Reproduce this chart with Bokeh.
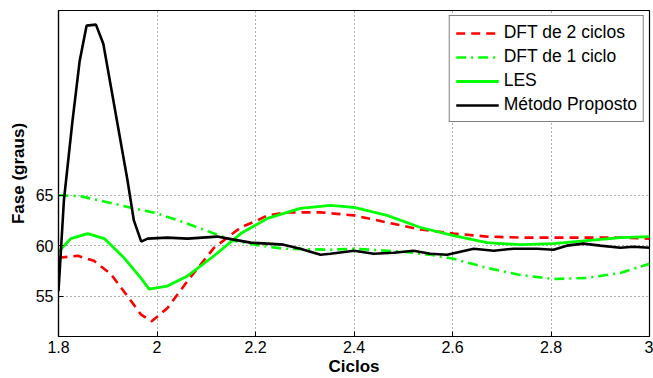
from bokeh.plotting import figure
from bokeh.models import FixedTicker, Legend, LegendItem, Range1d
from bokeh.embed import file_html
from bokeh.resources import INLINE

# ---- data ----
x_ticks = [1.8, 2.0, 2.2, 2.4, 2.6, 2.8, 3.0]
x_tick_labels = ["1.8", "2", "2.2", "2.4", "2.6", "2.8", "3"]
y_ticks = [55, 60, 65]

dft2_x = [1.800, 1.839, 1.872, 1.906, 1.940, 1.967, 1.989, 2.021, 2.062, 2.116, 2.170, 2.204, 2.224,
          2.264, 2.332, 2.400, 2.467, 2.535, 2.602, 2.670, 2.737, 2.805, 2.873, 2.941, 3.000]
dft2_y = [58.8, 59.0, 58.5, 57.2, 55.0, 53.2, 52.5, 53.8, 56.5, 59.8, 61.8, 62.5, 63.0,
          63.3, 63.3, 63.0, 62.3, 61.6, 61.2, 60.9, 60.8, 60.8, 60.8, 60.8, 60.7]

dft1_x = [1.800, 1.845, 1.899, 1.953, 2.000, 2.055, 2.116, 2.156, 2.210, 2.257, 2.352, 2.400,
          2.500, 2.555, 2.602, 2.670, 2.737, 2.805, 2.873, 2.941, 3.000]
dft1_y = [65.0, 64.9, 64.3, 63.7, 63.2, 62.3, 61.2, 60.5, 60.0, 59.7, 59.6, 59.7,
          59.4, 59.1, 58.7, 57.8, 57.1, 56.7, 56.8, 57.3, 58.2]

les_x = [1.800, 1.825, 1.859, 1.893, 1.933, 1.967, 1.984, 2.021, 2.062, 2.116, 2.170, 2.224,
         2.291, 2.352, 2.400, 2.467, 2.535, 2.602, 2.670, 2.737, 2.805, 2.873, 2.941, 3.000]
les_y = [59.4, 60.7, 61.2, 60.7, 58.8, 56.8, 55.7, 56.0, 57.0, 59.0, 61.2, 62.7,
         63.7, 64.0, 63.8, 63.0, 61.8, 61.0, 60.3, 60.1, 60.2, 60.5, 60.8, 60.9]

prop_x = [1.800, 1.811, 1.828, 1.843, 1.857, 1.876, 1.891, 1.940, 1.953, 1.968, 1.981, 2.021,
          2.062, 2.122, 2.156, 2.190, 2.224, 2.257, 2.291, 2.332, 2.352, 2.400, 2.440, 2.481,
          2.521, 2.555, 2.589, 2.616, 2.643, 2.684, 2.724, 2.772, 2.805, 2.832, 2.866, 2.900,
          2.941, 2.967, 3.000]
prop_y = [55.5, 64.5, 72.2, 78.3, 81.8, 81.9, 80.0, 66.5, 62.5, 60.4, 60.7, 60.8,
          60.7, 60.9, 60.6, 60.3, 60.2, 60.1, 59.7, 59.1, 59.2, 59.5, 59.2, 59.3,
          59.5, 59.2, 59.1, 59.4, 59.7, 59.5, 59.7, 59.7, 59.6, 60.0, 60.2, 60.0,
          59.8, 59.9, 59.8]

labels = ["DFT de 2 ciclos", "DFT de 1 ciclo", "LES", "Método Proposto"]

FONT = "Liberation Sans"

p = figure(width=653, height=378, output_backend="svg", toolbar_location=None,
           x_range=Range1d(1.8, 3.0), y_range=Range1d(51.0, 83.3),
           min_border_left=58, min_border_right=4, min_border_top=10, min_border_bottom=0)

p.outline_line_color = "black"
p.outline_line_width = 1.2
p.background_fill_color = "white"
p.border_fill_color = "white"

# axes
p.xaxis.ticker = FixedTicker(ticks=x_ticks)
p.xaxis.major_label_overrides = {t: l for t, l in zip(x_ticks, x_tick_labels)}
p.yaxis.ticker = FixedTicker(ticks=y_ticks)
for ax in (p.xaxis[0], p.yaxis[0]):
    ax.axis_line_color = "black"
    ax.axis_line_width = 1.2
    ax.major_tick_in = 5
    ax.major_tick_out = 0
    ax.minor_tick_line_color = None
    ax.major_tick_line_color = "black"
    ax.major_label_text_font = FONT
    ax.major_label_text_font_size = "16px"
    ax.major_label_text_color = "black"
    ax.axis_label_text_font = FONT
    ax.axis_label_text_font_size = "17px"
    ax.axis_label_text_font_style = "bold"
    ax.axis_label_text_color = "black"

p.xaxis.axis_label = "Ciclos"
p.yaxis.axis_label = "Fase (graus)"
p.xaxis.major_label_standoff = 4
p.xaxis.axis_label_standoff = 1
p.yaxis.major_label_standoff = 5
p.yaxis.axis_label_standoff = 5

# grid
p.xgrid.ticker = FixedTicker(ticks=x_ticks)
p.ygrid.ticker = FixedTicker(ticks=y_ticks)
for g in (p.xgrid[0], p.ygrid[0]):
    g.grid_line_color = "#606060"
    g.grid_line_dash = "1 3"
    g.grid_line_width = 1

r1 = p.line(dft2_x, dft2_y, line_color="#ff0000", line_width=2.6, line_dash="9 6")
r2 = p.line(dft1_x, dft1_y, line_color="#00ff00", line_width=2.6, line_dash="10 5 2 5")
r3 = p.line(les_x, les_y, line_color="#00ff00", line_width=2.8)
r4 = p.line(prop_x, prop_y, line_color="black", line_width=2.6)

legend = Legend(items=[LegendItem(label=labels[0], renderers=[r1]),
                       LegendItem(label=labels[1], renderers=[r2]),
                       LegendItem(label=labels[2], renderers=[r3]),
                       LegendItem(label=labels[3], renderers=[r4])],
                location="top_right")
legend.margin = 5
legend.padding = 6
legend.spacing = 3
legend.glyph_width = 43
legend.glyph_height = 20
legend.label_standoff = 5
legend.label_height = 20
legend.label_text_font = FONT
legend.label_text_font_size = "17.5px"
legend.label_text_color = "black"
legend.border_line_color = "black"
legend.border_line_width = 1.5
legend.background_fill_color = "white"
legend.background_fill_alpha = 1.0
p.add_layout(legend)

open("out.html", "w").write(file_html(p, INLINE))
